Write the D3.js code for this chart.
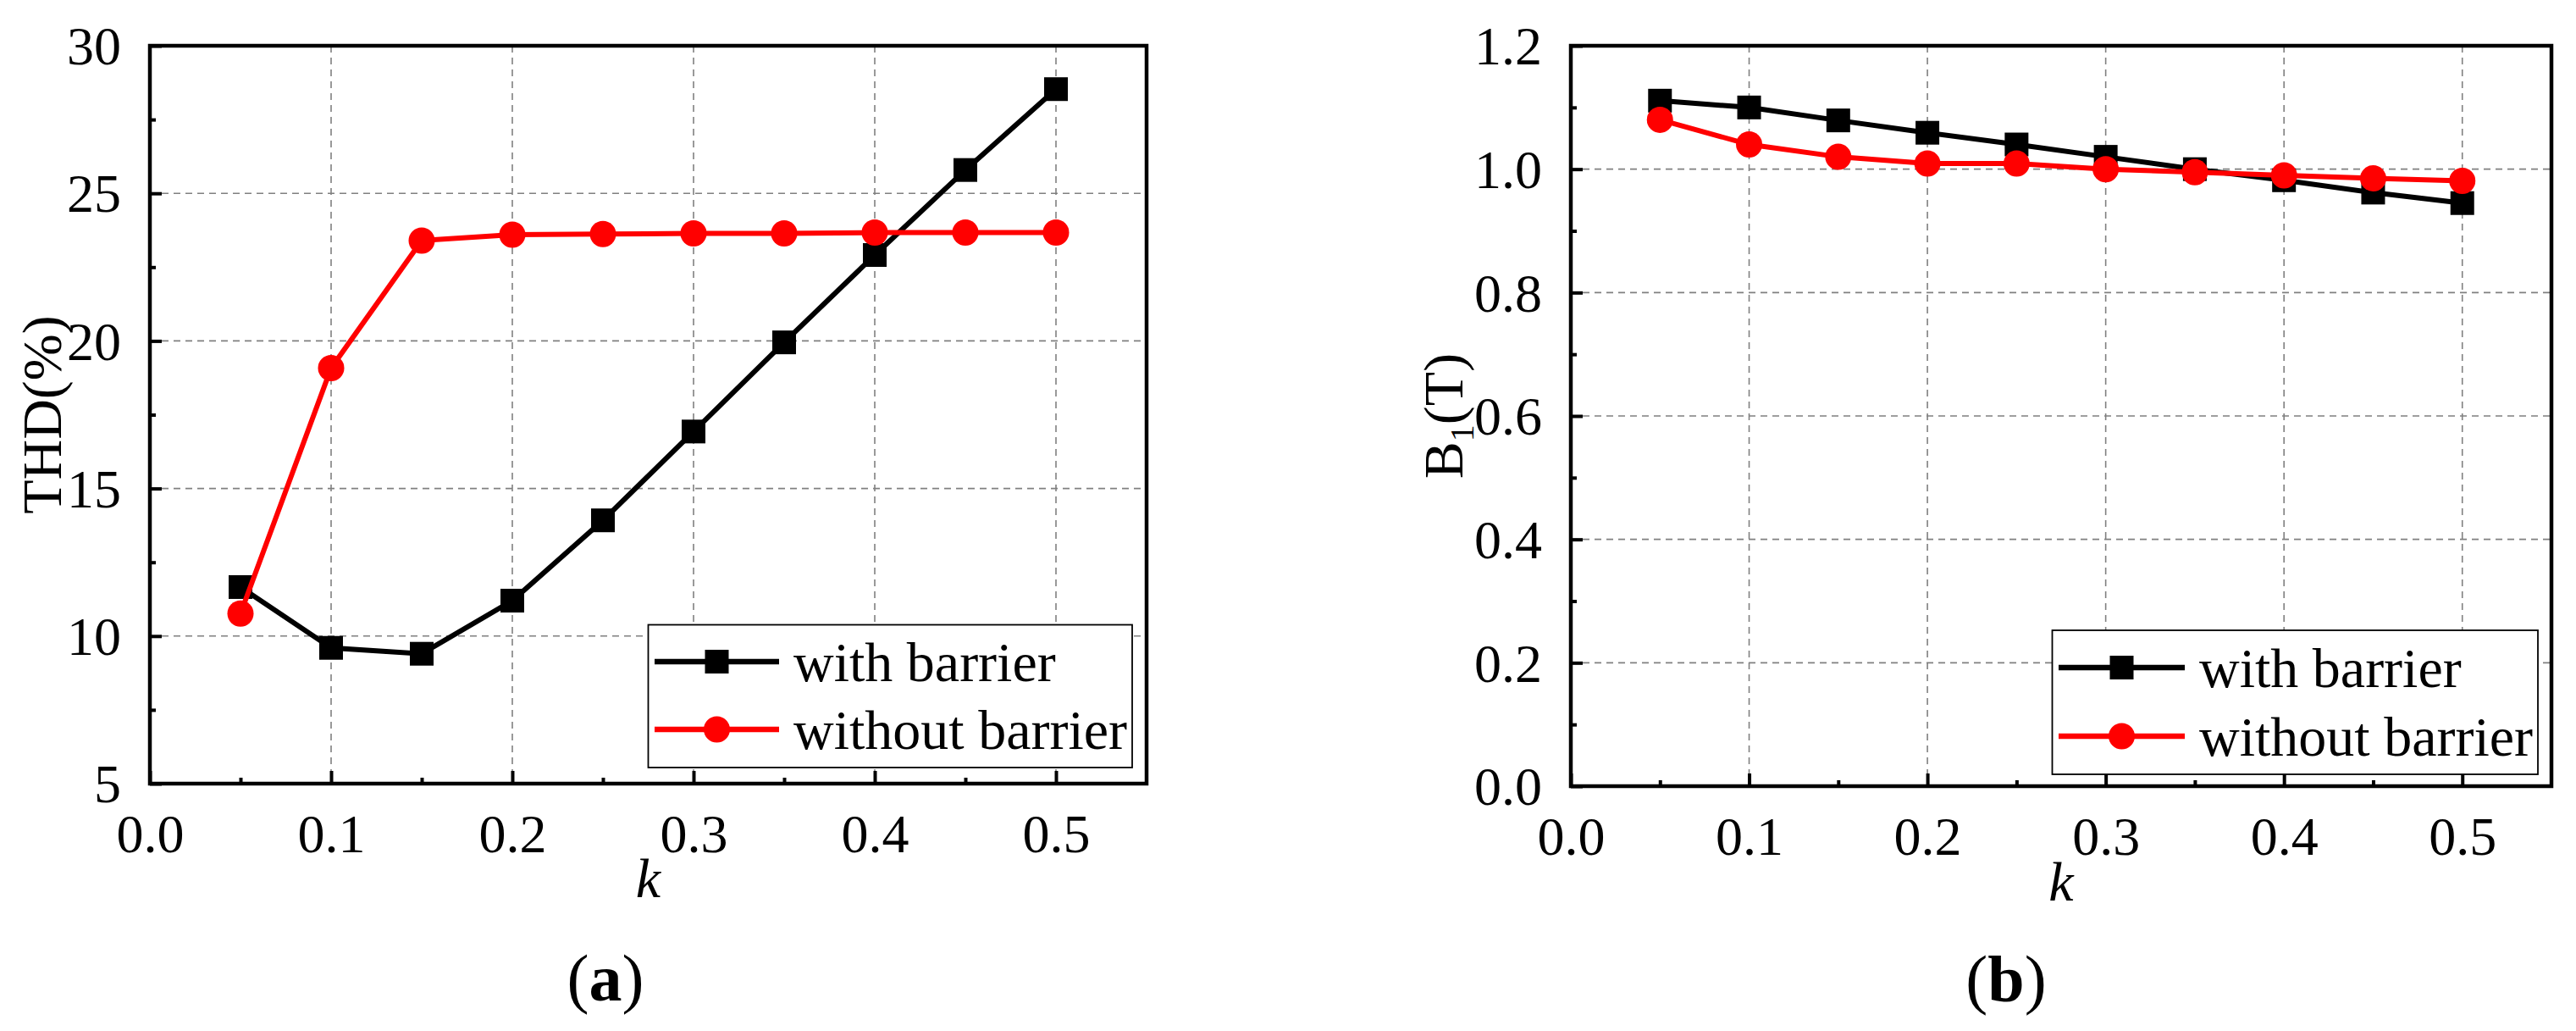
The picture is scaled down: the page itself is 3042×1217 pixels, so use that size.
<!DOCTYPE html>
<html>
<head>
<meta charset="utf-8">
<script src="https://cdn.jsdelivr.net/npm/d3@7"></script>
<style>
  html, body { margin: 0; padding: 0; background: #fff; }
  svg { display: block; font-family: "Liberation Serif", "Times New Roman", serif; }
</style>
</head>
<body>
<svg id="chart" width="3042" height="1217"></svg>
<script>
// ---------- data ----------
const kValues = [0.05, 0.10, 0.15, 0.20, 0.25, 0.30, 0.35, 0.40, 0.45, 0.50];
const thdWithBarrier = [11.66, 9.6, 9.4, 11.2, 13.92, 16.93, 19.95, 22.91, 25.79, 28.53];
const thdWithoutBarrier = [10.76, 19.08, 23.4, 23.6, 23.62, 23.64, 23.64, 23.67, 23.67, 23.67];
const b1WithBarrier = [1.111, 1.100, 1.079, 1.059, 1.040, 1.020, 1.000, 0.982, 0.962, 0.945];
const b1WithoutBarrier = [1.080, 1.040, 1.020, 1.009, 1.009, 1.000, 0.995, 0.990, 0.985, 0.981];
const seriesNames = ["with barrier", "without barrier"];
const xTickLabels = ["0.0", "0.1", "0.2", "0.3", "0.4", "0.5"];
const thdTickLabels = ["5", "10", "15", "20", "25", "30"];
const b1TickLabels = ["0.0", "0.2", "0.4", "0.6", "0.8", "1.0", "1.2"];

const svg = d3.select("#chart");
const FS_TICK = 64;

function drawPanel(opt) {
  const g = svg.append("g");
  const x = d3.scaleLinear().domain([0, 0.55]).range([opt.left, opt.right]);
  const y = d3.scaleLinear().domain(opt.yDomain).range([opt.bottom, opt.top]);

  const xMajor = xTickLabels.map(Number);
  const xMinor = d3.range(0.05, 0.55, 0.1);
  const yMajor = opt.yTicks.map(Number);
  const yMinor = opt.yMinor;

  // grid
  const grid = g.append("g").attr("stroke", "#808080").attr("stroke-width", 1.6)
    .attr("stroke-dasharray", "8,6");
  grid.selectAll("line.v").data(xMajor.filter(v => v > 0)).join("line")
    .attr("x1", d => x(d)).attr("x2", d => x(d))
    .attr("y1", opt.top).attr("y2", opt.bottom);
  grid.selectAll("line.h").data(yMajor.filter(v => v > opt.yDomain[0] && v < opt.yDomain[1])).join("line")
    .attr("x1", opt.left).attr("x2", opt.right)
    .attr("y1", d => y(d)).attr("y2", d => y(d));

  // axes (ticks inward)
  const xAxis = d3.axisBottom(x).tickValues(xMajor).tickSize(-15)
    .tickFormat((d, i) => xTickLabels[i]).tickPadding(36);
  const xAxisMinor = d3.axisBottom(x).tickValues(xMinor).tickSize(-7).tickFormat("");
  const yAxis = d3.axisLeft(y).tickValues(yMajor).tickSize(-14)
    .tickFormat((d, i) => opt.yTicks[i]).tickPadding(34);
  const yAxisMinor = d3.axisLeft(y).tickValues(yMinor).tickSize(-7).tickFormat("");

  function styleAxis(sel) {
    sel.select(".domain").remove();
    sel.selectAll(".tick line").attr("stroke", "#000").attr("stroke-width", 4);
    sel.selectAll(".tick text").attr("fill", "#000").style("font-size", FS_TICK + "px")
      .style("font-family", '"Liberation Serif", "Times New Roman", serif');
  }
  g.append("g").attr("transform", `translate(0,${opt.bottom})`).call(xAxis).call(styleAxis);
  g.append("g").attr("transform", `translate(0,${opt.bottom})`).call(xAxisMinor).call(styleAxis);
  g.append("g").attr("transform", `translate(${opt.left},0)`).call(yAxis).call(styleAxis)
    .selectAll(".tick text").attr("dy", "0.34em");
  g.append("g").attr("transform", `translate(${opt.left},0)`).call(yAxisMinor).call(styleAxis);

  // frame
  g.append("rect").attr("x", opt.left).attr("y", opt.top)
    .attr("width", opt.right - opt.left).attr("height", opt.bottom - opt.top)
    .attr("fill", "none").attr("stroke", "#000").attr("stroke-width", 4.5);

  // series
  const series = [
    { vals: opt.s1, color: "#000000", shape: "square" },
    { vals: opt.s2, color: "#ff0000", shape: "circle" }
  ];
  const line = d3.line().x((d, i) => x(kValues[i])).y(d => y(d));
  series.forEach(s => {
    g.append("path").datum(s.vals).attr("d", line)
      .attr("fill", "none").attr("stroke", s.color).attr("stroke-width", 6)
      .attr("stroke-linejoin", "miter");
    if (s.shape === "square") {
      g.selectAll(null).data(s.vals).join("rect")
        .attr("x", (d, i) => x(kValues[i]) - 14).attr("y", d => y(d) - 14)
        .attr("width", 28).attr("height", 28).attr("fill", s.color);
    } else {
      g.selectAll(null).data(s.vals).join("circle")
        .attr("cx", (d, i) => x(kValues[i])).attr("cy", d => y(d))
        .attr("r", 15.5).attr("fill", s.color);
    }
  });

  // axis titles
  g.append("text").attr("x", (opt.left + opt.right) / 2).attr("y", opt.kBaseline)
    .attr("text-anchor", "middle").style("font-size", "66px").style("font-style", "italic")
    .text("k");
  const yt = g.append("text")
    .attr("transform", `translate(${opt.yTitleX},${(opt.top + opt.bottom) / 2}) rotate(-90)`)
    .attr("text-anchor", "middle").style("font-size", "66px");
  opt.yTitle(yt);

  // panel label
  const pl = g.append("text").attr("x", opt.panelX).attr("y", opt.panelY)
    .attr("text-anchor", "middle").style("font-size", "78px");
  pl.append("tspan").text("(");
  pl.append("tspan").style("font-weight", "bold").text(opt.panel);
  pl.append("tspan").text(")");

  // legend
  const L = opt.legend;
  const lg = g.append("g");
  lg.append("rect").attr("x", L.x0).attr("y", L.y0).attr("width", L.x1 - L.x0)
    .attr("height", L.y1 - L.y0).attr("fill", "#fff").attr("stroke", "#000").attr("stroke-width", 1.8);
  series.forEach((s, i) => {
    const cy = L.rows[i];
    lg.append("line").attr("x1", L.lx0).attr("x2", L.lx1).attr("y1", cy).attr("y2", cy)
      .attr("stroke", s.color).attr("stroke-width", 6.5);
    const mx = (L.lx0 + L.lx1) / 2;
    if (s.shape === "square") {
      lg.append("rect").attr("x", mx - 14).attr("y", cy - 14).attr("width", 28).attr("height", 28)
        .attr("fill", s.color);
    } else {
      lg.append("circle").attr("cx", mx).attr("cy", cy).attr("r", 15.5).attr("fill", s.color);
    }
    lg.append("text").attr("x", L.tx).attr("y", cy + 23).style("font-size", "66px")
      .text(seriesNames[i]);
  });
}

drawPanel({
  left: 177, right: 1354, top: 54, bottom: 925,
  yDomain: [5, 30], yTicks: thdTickLabels, yMinor: [7.5, 12.5, 17.5, 22.5, 27.5],
  s1: thdWithBarrier, s2: thdWithoutBarrier,
  kBaseline: 1059, yTitleX: 72,
  yTitle: t => t.text("THD(%)"),
  panel: "a", panelX: 715, panelY: 1181,
  legend: { x0: 765.5, x1: 1337, y0: 737.5, y1: 906, rows: [781, 861], lx0: 773, lx1: 920, tx: 937 }
});

drawPanel({
  left: 1855, right: 3013, top: 54, bottom: 928,
  yDomain: [0, 1.2], yTicks: b1TickLabels, yMinor: [0.1, 0.3, 0.5, 0.7, 0.9, 1.1],
  s1: b1WithBarrier, s2: b1WithoutBarrier,
  kBaseline: 1063, yTitleX: 1727,
  yTitle: t => {
    t.append("tspan").text("B");
    t.append("tspan").attr("dy", 13).style("font-size", "40px").text("1");
    t.append("tspan").attr("dy", -13).text("(T)");
  },
  panel: "b", panelX: 2369, panelY: 1182,
  legend: { x0: 2423.5, x1: 2997, y0: 744, y1: 914, rows: [788, 869], lx0: 2431, lx1: 2580, tx: 2597 }
});
</script>
</body>
</html>
